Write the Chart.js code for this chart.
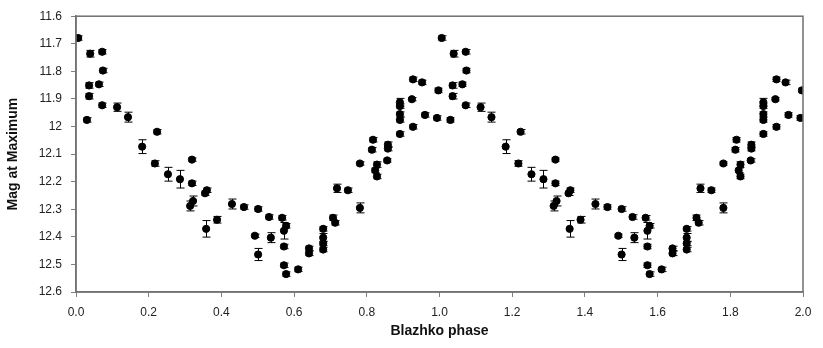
<!DOCTYPE html>
<html>
<head>
<meta charset="utf-8">
<script src="https://cdn.jsdelivr.net/npm/chart.js@4"></script>
<style>
  html, body { margin: 0; padding: 0; background: #fff; }
  #wrap { width: 823px; height: 348px; }
</style>
</head>
<body>
<div id="wrap"><canvas id="chart"></canvas></div>
<script>
// Blazhko phase (one cycle, 0..1) - plotted twice, second copy shifted by +1
const phase = [0.006,0.039,0.072,0.074,0.036,0.063,0.036,0.072,0.030,0.113,0.143,0.182,0.223,0.217,0.253,0.286,0.319,0.319,0.360,0.355,
  0.322,0.314,0.358,0.388,0.429,0.462,0.501,0.531,0.492,0.536,0.501,0.567,0.578,0.572,0.572,0.572,0.578,0.611,0.641,0.641,
  0.680,0.680,0.680,0.680,0.707,0.713,0.718,0.748,0.781,0.781,0.817,0.814,0.828,0.823,0.828,0.858,0.858,0.856,0.891,0.891,
  0.891,0.891,0.891,0.927,0.960,0.993,0.927,0.952,0.924,0.997];
// Magnitude at maximum
const mag = [11.679,11.736,11.729,11.797,11.851,11.847,11.890,11.923,11.976,11.930,11.966,12.073,12.019,12.134,12.173,12.191,12.120,12.206,12.231,12.242,
  12.270,12.288,12.371,12.338,12.281,12.292,12.299,12.328,12.396,12.403,12.464,12.331,12.360,12.378,12.435,12.503,12.535,12.518,12.442,12.460,
  12.371,12.403,12.424,12.446,12.331,12.349,12.224,12.231,12.295,12.134,12.048,12.084,12.138,12.159,12.181,12.066,12.080,12.123,12.027,11.976,
  11.955,11.926,11.912,12.001,11.958,11.969,11.829,11.840,11.901,11.869];
// error bars (+/-)
const magErr = [0.008,0.012,0.008,0.008,0.010,0.008,0.010,0.008,0.008,0.015,0.018,0.025,0.008,0.010,0.025,0.032,0.006,0.008,0.008,0.008,
  0.018,0.018,0.030,0.012,0.018,0.008,0.008,0.008,0.006,0.018,0.022,0.008,0.008,0.030,0.008,0.008,0.008,0.008,0.008,0.008,
  0.008,0.015,0.008,0.008,0.010,0.008,0.015,0.008,0.018,0.006,0.008,0.008,0.010,0.008,0.008,0.010,0.008,0.006,0.008,0.008,
  0.008,0.008,0.014,0.008,0.008,0.008,0.008,0.008,0.006,0.008];

const cycles = [0, 1];

const points = [];
cycles.forEach(c => {
  phase.forEach((p, i) => points.push({ x: p + c, y: mag[i], e: magErr[i] }));
});

// vertical error bars with caps, drawn under the markers
const errorBars = {
  id: 'errorBars',
  beforeDatasetsDraw(chart) {
    const { ctx, chartArea, scales: { x, y } } = chart;
    ctx.save();
    ctx.beginPath();
    ctx.rect(chartArea.left, chartArea.top, chartArea.width, chartArea.height);
    ctx.clip();
    ctx.strokeStyle = '#000';
    ctx.lineWidth = 1;
    chart.data.datasets[0].data.forEach(pt => {
      const px = Math.round(x.getPixelForValue(pt.x)) + 0.5;
      const y1 = y.getPixelForValue(pt.y - pt.e);
      const y2 = y.getPixelForValue(pt.y + pt.e);
      ctx.beginPath();
      ctx.moveTo(px, y1); ctx.lineTo(px, y2);
      ctx.moveTo(px - 4, y1); ctx.lineTo(px + 4, y1);
      ctx.moveTo(px - 4, y2); ctx.lineTo(px + 4, y2);
      ctx.stroke();
    });
    ctx.restore();
  }
};

// plot area frame (top and right sides too)
const frame = {
  id: 'frame',
  afterDraw(chart) {
    const { ctx, chartArea } = chart;
    ctx.save();
    ctx.strokeStyle = '#6f6f6f';
    ctx.lineWidth = 1.5;
    ctx.strokeRect(chartArea.left, chartArea.top, chartArea.width, chartArea.height);
    ctx.restore();
  }
};

new Chart(document.getElementById('chart'), {
  type: 'scatter',
  data: {
    datasets: [{
      label: 'Mag at Maximum',
      data: points,
      backgroundColor: '#000',
      borderColor: '#000',
      pointRadius: 3.6,
      pointHoverRadius: 3.6
    }]
  },
  options: {
    responsive: true,
    maintainAspectRatio: false,
    animation: false,
    layout: { padding: { left: 0, right: 20, top: 13, bottom: 0 } },
    plugins: { legend: { display: false }, tooltip: { enabled: false } },
    scales: {
      x: {
        type: 'linear',
        min: 0, max: 2,
        afterFit: s => { s.height = 56; },
        border: { display: true, color: '#7f7f7f', width: 1.5 },
        grid: { display: true, drawOnChartArea: false, drawTicks: true, tickLength: 5, color: '#7f7f7f' },
        ticks: {
          stepSize: 0.2, padding: 8, color: '#222',
          font: { family: 'Liberation Sans', size: 12 },
          callback: v => v.toFixed(1)
        },
        title: {
          display: true, text: 'Blazhko phase', color: '#111',
          font: { family: 'Liberation Sans', size: 14, weight: 'bold' },
          padding: { top: 0, bottom: 8 }
        }
      },
      y: {
        type: 'linear',
        reverse: true,
        min: 11.6, max: 12.6,
        afterFit: s => { s.width = 76; },
        border: { display: true, color: '#7f7f7f', width: 1.5 },
        grid: { display: true, drawOnChartArea: false, drawTicks: true, tickLength: 5, color: '#7f7f7f' },
        ticks: {
          stepSize: 0.1, padding: 9, color: '#222',
          font: { family: 'Liberation Sans', size: 12 },
          callback: v => String(Number(v.toFixed(1)))
        },
        title: {
          display: true, text: 'Mag at Maximum', color: '#111',
          font: { family: 'Liberation Sans', size: 14, weight: 'bold' },
          padding: { top: 5, bottom: 0 }
        }
      }
    }
  },
  plugins: [errorBars, frame]
});
</script>
</body>
</html>
